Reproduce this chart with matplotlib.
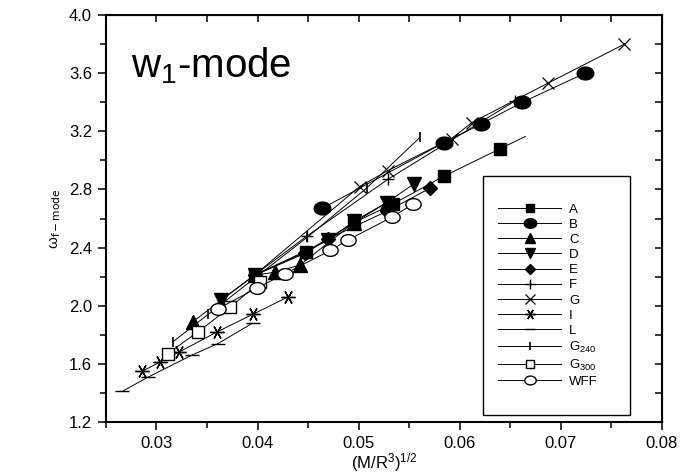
import numpy as np
import matplotlib
matplotlib.use("Agg")
import matplotlib.pyplot as plt
from matplotlib.path import Path
from matplotlib.patches import Rectangle

plt.rcParams["font.family"] = ["Liberation Sans", "DejaVu Sans"]
plt.rcParams["mathtext.default"] = "regular"

# data
a_x = [0.0397, 0.0448, 0.0495, 0.0534, 0.0584, 0.0640]
a_y = [2.21, 2.37, 2.57, 2.70, 2.89, 3.08]
a_end = 0.0665  # line of A runs on past the last square

b_x = [0.0464, 0.0584, 0.0621, 0.0662, 0.0724]
b_y = [2.67, 3.12, 3.25, 3.40, 3.60]

c_x = [0.0336, 0.0397, 0.0417, 0.0442, 0.0495, 0.0528]
c_y = [1.89, 2.21, 2.23, 2.28, 2.57, 2.71]

d_x = [0.0364, 0.0397, 0.0470, 0.0495, 0.0528, 0.0555]
d_y = [2.04, 2.21, 2.45, 2.58, 2.71, 2.84]

e_x = [0.0397, 0.0447, 0.0470, 0.0528, 0.0571]
e_y = [2.21, 2.36, 2.46, 2.65, 2.81]

f_x = [0.0397, 0.0449, 0.0529, 0.0655]
f_y = [2.21, 2.48, 2.87, 3.41]

g_x = [0.0397, 0.0501, 0.0529, 0.0592, 0.0612, 0.0687, 0.0763]
g_y = [2.21, 2.82, 2.93, 3.15, 3.26, 3.53, 3.80]

i_x = [0.0286, 0.0303, 0.0322, 0.0360, 0.0395, 0.0430]
i_y = [1.55, 1.61, 1.68, 1.82, 1.94, 2.06]

l_x = [0.0266, 0.0292, 0.0335, 0.0361, 0.0395]
l_y = [1.41, 1.51, 1.66, 1.74, 1.88]

g240_x = [0.0316, 0.0351, 0.0449, 0.0508, 0.0561]
g240_y = [1.75, 1.94, 2.47, 2.81, 3.16]

g300_x = [0.0311, 0.0341, 0.0373, 0.0402]
g300_y = [1.67, 1.82, 1.99, 2.16]

wff_x = [0.0361, 0.0399, 0.0427, 0.0472, 0.0489, 0.0533, 0.0554]
wff_y = [1.98, 2.12, 2.22, 2.38, 2.45, 2.61, 2.70]

# slightly flattened circle, as the dots in the scan
t = np.linspace(0, 2 * np.pi, 40)
oval = Path(np.column_stack([1.3 * np.cos(t), np.sin(t)]), closed=True)

fig = plt.figure(figsize=(6.88, 4.75), dpi=100)
ax = fig.add_axes([0.154, 0.1116, 0.808, 0.8568])

lw = 0.7
k = "black"

# A line extended with the slope of its last segment
slope = (a_y[-1] - a_y[-2]) / (a_x[-1] - a_x[-2])
ax.plot([a_x[-1], a_end], [a_y[-1], a_y[-1] + slope * (a_end - a_x[-1])],
        color=k, lw=lw)
ax.plot(a_x, a_y, color=k, lw=lw, marker="s", ms=8, label="A")
ax.plot(b_x, b_y, color=k, lw=lw, marker=oval, ms=12, label="B")
ax.plot(c_x, c_y, color=k, lw=lw, marker="^", ms=9.5, label="C")
ax.plot(d_x, d_y, color=k, lw=lw, marker="v", ms=9.5, label="D")
ax.plot(e_x, e_y, color=k, lw=lw, marker="D", ms=7, label="E")
ax.plot(f_x, f_y, color=k, lw=lw, marker="+", ms=9, mew=1, label="F")
ax.plot(g_x, g_y, color=k, lw=lw, marker="x", ms=9, mew=0.9, label="G")
ax.plot(i_x, i_y, color=k, lw=lw, marker=(6, 2, 90), ms=10, mew=1,
        label="I")
ax.plot(l_x, l_y, color=k, lw=lw, marker="_", ms=10, mew=1, label="L")
ax.plot(g240_x, g240_y, color=k, lw=lw, marker="|", ms=7, mew=1.2,
        label="G$_{240}$")
ax.plot(g300_x, g300_y, color=k, lw=lw, marker="s", ms=8, mfc="white",
        mew=1, label="G$_{300}$")
ax.plot(wff_x, wff_y, color=k, lw=lw, marker=oval, ms=11, mfc="white",
        mew=1, label="WFF")

ax.set_xlim(0.025, 0.08)
ax.set_ylim(1.2, 4.0)
ax.set_xticks(np.arange(0.03, 0.081, 0.01))
ax.set_xticks(np.arange(0.025, 0.0801, 0.005), minor=True)
ax.set_yticks(np.arange(1.2, 4.01, 0.4))
ax.set_yticks(np.arange(1.2, 4.01, 0.2), minor=True)
ax.xaxis.set_major_formatter(matplotlib.ticker.FormatStrFormatter("%.2f"))
ax.yaxis.set_major_formatter(matplotlib.ticker.FormatStrFormatter("%.1f"))
ax.tick_params(which="major", direction="out", length=6, width=1.1,
               labelsize=12, pad=4)
ax.tick_params(which="minor", direction="out", length=4, width=1.1)
for s in ax.spines.values():
    s.set_linewidth(1.5)

top = ax.secondary_xaxis("top")
top.set_xticks(np.arange(0.025, 0.0801, 0.005))
top.tick_params(direction="in", length=5, width=1.1, labeltop=False)
right = ax.secondary_yaxis("right")
right.set_yticks(np.arange(1.2, 4.01, 0.2))
right.tick_params(direction="in", length=5, width=1.1, labelright=False)

ax.set_xlabel("(M/R$^3$)$^{1/2}$", fontsize=12, labelpad=0)
ax.set_ylabel(r"$\omega_{\mathrm{f-mode}}$", fontsize=11, labelpad=4)

ax.text(0.045, 0.925, "w$_1$-mode", transform=ax.transAxes, fontsize=29,
        va="top", ha="left")

ax.add_patch(Rectangle((0.678, 0.017), 0.264, 0.587, transform=ax.transAxes,
                       fill=False, edgecolor=k, lw=1.0, zorder=4))
ax.legend(loc="upper left", bbox_to_anchor=(0.705, 0.537), fontsize=9.5,
          handlelength=4.8, labelspacing=0.22, handletextpad=0.6,
          borderpad=0, borderaxespad=0, frameon=False, markerscale=0.75)

fig.savefig("out.png", dpi=100)
